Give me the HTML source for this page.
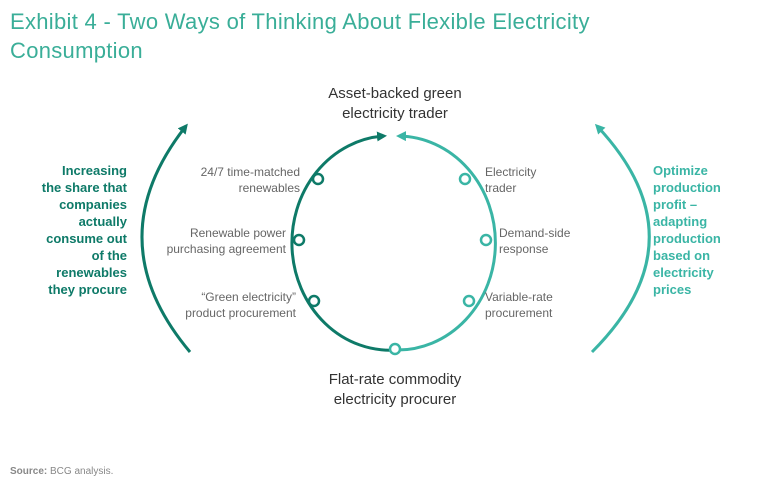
<!DOCTYPE html>
<html><head><meta charset="utf-8"><style>
body{margin:0;width:768px;height:491px;background:#fff;overflow:hidden;position:relative;font-family:"Liberation Sans",sans-serif}
.t{position:absolute;left:10px;top:7px;color:#3aae98;font-size:22px;line-height:29px;letter-spacing:0.3px}
svg{position:absolute;left:0;top:0}
</style></head><body>
<div class="t">Exhibit 4 - Two Ways of Thinking About Flexible Electricity<br>Consumption</div>
<svg width="768" height="491" font-family="Liberation Sans, sans-serif">
<defs>
<marker id="ad" markerWidth="10" markerHeight="10" refX="7" refY="5" orient="auto" markerUnits="userSpaceOnUse"><path d="M0,0 L10,5 L0,10 Z" fill="#0e7a68"/></marker>
<marker id="al" markerWidth="10" markerHeight="10" refX="7" refY="5" orient="auto" markerUnits="userSpaceOnUse"><path d="M0,0 L10,5 L0,10 Z" fill="#3ab5a5"/></marker>
</defs>
<path d="M396,350 A97,106 0 0 1 384,136" fill="none" stroke="#0e7a68" stroke-width="3" marker-end="url(#ad)"/>
<path d="M396,350 A97,106 0 0 0 399,136" fill="none" stroke="#3ab5a5" stroke-width="3" marker-end="url(#al)"/>
<path d="M190,352 Q96,240 186,126" fill="none" stroke="#0e7a68" stroke-width="3" marker-end="url(#ad)"/>
<path d="M592,352 Q704,240 597,126" fill="none" stroke="#3ab5a5" stroke-width="3" marker-end="url(#al)"/>
<g fill="#fff" stroke-width="2.5">
<circle cx="318" cy="179" r="5" stroke="#0e7a68"/>
<circle cx="299" cy="240" r="5" stroke="#0e7a68"/>
<circle cx="314" cy="301" r="5" stroke="#0e7a68"/>
<circle cx="395" cy="349" r="5" stroke="#3ab5a5"/>
<circle cx="465" cy="179" r="5" stroke="#3ab5a5"/>
<circle cx="486" cy="240" r="5" stroke="#3ab5a5"/>
<circle cx="469" cy="301" r="5" stroke="#3ab5a5"/>
</g>
<g font-size="15" fill="#333" text-anchor="middle">
<text x="395" y="98">Asset-backed green</text>
<text x="395" y="118">electricity trader</text>
<text x="395" y="384">Flat-rate commodity</text>
<text x="395" y="404">electricity procurer</text>
</g>
<g font-size="12" fill="#666" text-anchor="end">
<text x="300" y="176">24/7 time-matched</text>
<text x="300" y="192">renewables</text>
<text x="286" y="237">Renewable power</text>
<text x="286" y="253">purchasing agreement</text>
<text x="296" y="301">“Green electricity”</text>
<text x="296" y="317">product procurement</text>
</g>
<g font-size="12" fill="#666">
<text x="485" y="176">Electricity</text>
<text x="485" y="192">trader</text>
<text x="499" y="237">Demand-side</text>
<text x="499" y="253">response</text>
<text x="485" y="301">Variable-rate</text>
<text x="485" y="317">procurement</text>
</g>
<g font-size="13" font-weight="bold" fill="#0e7a68" text-anchor="end">
<text x="127" y="175">Increasing</text>
<text x="127" y="192">the share that</text>
<text x="127" y="209">companies</text>
<text x="127" y="226">actually</text>
<text x="127" y="243">consume out</text>
<text x="127" y="260">of the</text>
<text x="127" y="277">renewables</text>
<text x="127" y="294">they procure</text>
</g>
<g font-size="13" font-weight="bold" fill="#3ab5a5">
<text x="653" y="175">Optimize</text>
<text x="653" y="192">production</text>
<text x="653" y="209">profit –</text>
<text x="653" y="226">adapting</text>
<text x="653" y="243">production</text>
<text x="653" y="260">based on</text>
<text x="653" y="277">electricity</text>
<text x="653" y="294">prices</text>
</g>
<text x="10" y="474" font-size="10" fill="#888"><tspan font-weight="bold">Source:</tspan> BCG analysis.</text>
</svg>
</body></html>
